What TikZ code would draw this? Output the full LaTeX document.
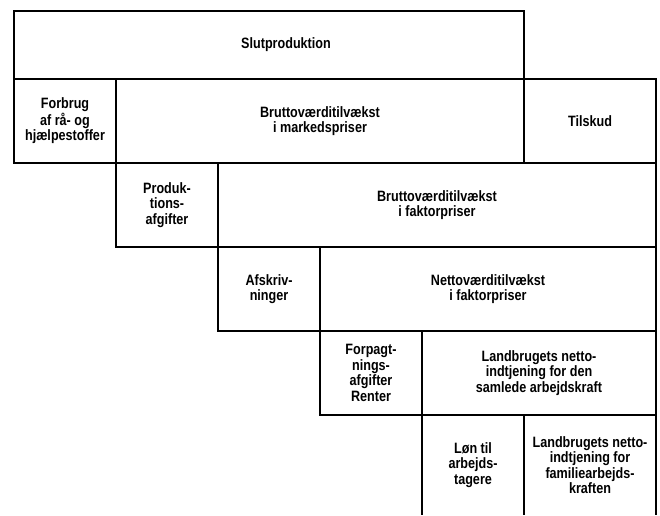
\documentclass[tikz,border=0pt]{standalone}
\usepackage{fontspec}
\newfontfamily\cellfont[FakeStretch=0.84]{Liberation Sans}
\usetikzlibrary{positioning}

\begin{document}
\begin{tikzpicture}[x=1pt,y=1pt,line width=1.6pt,
    cell/.style={rectangle,draw,outer sep=0pt,inner sep=0pt,align=center,minimum height=84pt,minimum width=102pt,
        font=\cellfont\bfseries\fontsize{15pt}{15.5pt}\selectfont},
    opencell/.style={cell,draw=none,minimum height=100pt}]
            \useasboundingbox (0,0) rectangle (660,-515);

            \node[cell,anchor=north west,minimum width=510pt,minimum height=68pt] (slut) at (14,-11) {\hspace*{34pt}Slutproduktion};
            \node[cell,anchor=north west] (forbrug) at (slut.south west) {Forbrug\\af rå- og\\hjælpestoffer};
            \node[cell,minimum width=408pt] (bmark) [right=0pt of forbrug] {Bruttoværditilvækst\\i markedspriser};
            \node[cell,minimum width=132pt] (tilskud) [right=0pt of bmark] {Tilskud};

            \node[cell,anchor=north west] (prod) at (bmark.south west) {Produk-\\tions-\\afgifter};
            \node[cell,minimum width=438pt] (bfakt) [right=0pt of prod] {Bruttoværditilvækst\\i faktorpriser};

            \node[cell,anchor=north west] (afskr) at (bfakt.south west) {Afskriv-\\ninger};
            \node[cell,minimum width=336pt] (netto) [right=0pt of afskr] {Nettoværditilvækst\\i faktorpriser};

            \node[cell,anchor=north west] (forp) at (netto.south west) {Forpagt-\\nings-\\afgifter\\Renter};
            \node[cell,minimum width=234pt] (lsam) [right=0pt of forp] {Landbrugets netto-\\indtjening for den\\samlede arbejdskraft};

            \node[opencell,anchor=north west] (loen) at (lsam.south west) {Løn til\\arbejds-\\tagere};
            \node[opencell,minimum width=132pt] (lfam) [right=0pt of loen] {Landbrugets netto-\\indtjening for\\familiearbejds-\\kraften};

            \draw (loen.north west) -- (loen.south west)
                  (lfam.north west) -- (lfam.south west)
                  (lfam.north east) -- (lfam.south east);
        \end{tikzpicture}
\end{document}
